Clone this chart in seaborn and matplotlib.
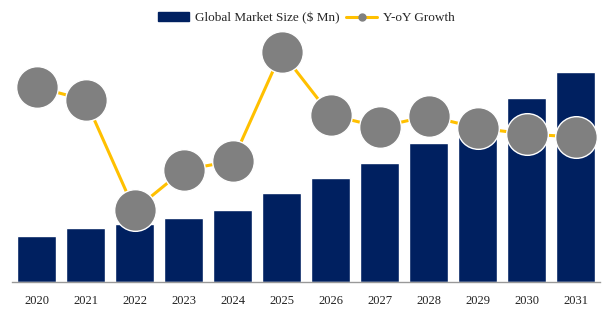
import matplotlib
matplotlib.use("Agg")
import matplotlib.pyplot as plt
import seaborn as sns
import numpy as np
import pandas as pd
from matplotlib.patches import Patch
from matplotlib.lines import Line2D

years = ["2020", "2021", "2022", "2023", "2024", "2025", "2026", "2027", "2028", "2029", "2030", "2031"]
market_size = [46, 54, 58, 64, 72, 89, 104, 119, 139, 161, 184, 210]
yoy_growth = [9.75, 9.1, 3.6, 5.6, 6.05, 11.5, 8.35, 7.75, 8.3, 7.7, 7.4, 7.25]

navy = "#002060"
gold = "#FFC000"
grey = "#808080"

sns.set_theme(style="white")
plt.rcParams["font.family"] = ["Liberation Serif", "DejaVu Serif"]

fig = plt.figure(figsize=(6.12, 3.22), dpi=100)
ax = fig.add_axes([12 / 612, 40 / 322, 588 / 612, 252 / 322])

df = pd.DataFrame({"year": years, "size": market_size, "growth": yoy_growth})
sns.barplot(data=df, x="year", y="size", color=navy, saturation=1, width=0.8, ax=ax)
ax.set_ylim(0, 252)
ax.set_xlim(-0.5, 11.5)
ax.set_xlabel("")
ax.set_ylabel("")
ax.set_yticks([])
for s in ["top", "right", "left"]:
    ax.spines[s].set_visible(False)
ax.spines["bottom"].set_color("#999999")
ax.spines["bottom"].set_linewidth(1.0)
ax.tick_params(axis="x", length=0, pad=9, labelsize=9, colors="#222222")

ax2 = ax.twinx()
sns.lineplot(x=np.arange(len(years)), y=yoy_growth, ax=ax2, color=gold, linewidth=2.2,
             marker="o", markersize=30, markerfacecolor=grey, markeredgecolor="white",
             markeredgewidth=1.0, zorder=5)
ax2.set_ylim(0, 252 / 20)
ax2.set_yticks([])
ax2.set_ylabel("")
for s in ["top", "right", "left", "bottom"]:
    ax2.spines[s].set_visible(False)
ax2.set_xlim(-0.5, 11.5)

handles = [
    Patch(facecolor=navy, edgecolor=navy),
    Line2D([0], [0], color=gold, linewidth=2.2, marker="o", markersize=5,
           markerfacecolor=grey, markeredgecolor=grey),
]
labels = ["Global Market Size ($ Mn)", "Y-oY Growth"]
fig.legend(handles, labels, loc="center", bbox_to_anchor=(0.5, 1 - 18 / 322), ncol=2,
           frameon=False, fontsize=9.5, handlelength=2.4, handleheight=0.6,
           columnspacing=0.5, handletextpad=0.4)

fig.savefig("out.png", dpi=100)
